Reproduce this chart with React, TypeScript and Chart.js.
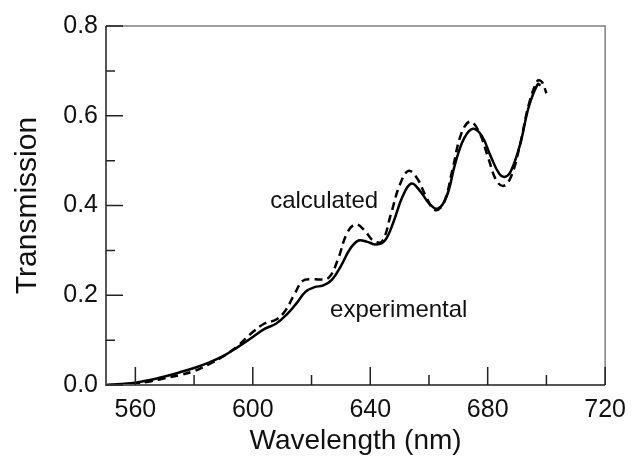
import React, { useEffect, useRef } from "react";
import { Chart, registerables } from "chart.js";

Chart.register(...registerables);

// ---- Data ----
const expWavelengths = [
  550, 555, 560, 565, 570, 575, 580, 585, 590, 595, 600, 604, 608, 612, 615, 618,
  621, 624, 627, 630, 633, 636, 639, 642, 645, 648, 651, 654, 657, 660, 663, 666,
  669, 672, 675, 678, 681, 684, 686, 688, 691, 694, 697, 698,
];
const expValues = [
  0.0, 0.002, 0.005, 0.011, 0.019, 0.028, 0.038, 0.05, 0.065, 0.085, 0.107, 0.125,
  0.137, 0.16, 0.183, 0.208, 0.218, 0.222, 0.235, 0.265, 0.302, 0.322, 0.319, 0.313,
  0.322, 0.365, 0.42, 0.449, 0.432, 0.405, 0.393, 0.42, 0.495, 0.55, 0.571, 0.555,
  0.51, 0.47, 0.464, 0.478, 0.535, 0.62, 0.67, 0.668,
];

const calcWavelengths = [
  550, 555, 560, 565, 570, 575, 580, 585, 590, 595, 600, 604, 608, 611, 614, 617,
  620, 623, 626, 629, 632, 635, 638, 641, 644, 647, 650, 653, 656, 659, 662, 665,
  668, 671, 674, 677, 680, 683, 685.5, 688, 691, 694, 697, 698.5, 700,
];
const calcValues = [
  0.0, 0.001, 0.003, 0.008, 0.015, 0.022, 0.031, 0.046, 0.064, 0.088, 0.118, 0.137,
  0.146, 0.165, 0.2, 0.232, 0.236, 0.235, 0.24, 0.28, 0.337, 0.358, 0.345, 0.322,
  0.32, 0.38, 0.445, 0.477, 0.46, 0.42, 0.39, 0.405, 0.48, 0.56, 0.587, 0.565,
  0.51, 0.455, 0.444, 0.465, 0.535, 0.625, 0.678, 0.675, 0.65,
];

const xMin = 550;
const xMax = 720;
const yMin = 0;
const yMax = 0.8;
const xTickValues = [560, 600, 640, 680, 720];
const xMinorTicks = [580, 620, 660, 700];
const yTickValues = [0, 0.2, 0.4, 0.6, 0.8];
const yMinorTicks = [0.1, 0.3, 0.5, 0.7];

const xTitle = "Wavelength (nm)";
const yTitle = "Transmission";
const annotationLabels = ["calculated", "experimental"];
const annotationX = [605.9, 626.3];
const annotationY = [0.394, 0.151];

const FONT = "'Liberation Sans', Arial, Helvetica, sans-serif";

const framePlugin = {
  id: "frameAndTicks",
  afterDraw(chart: any) {
    const { ctx, chartArea, scales } = chart;
    const { left, right, top, bottom } = chartArea;
    const xs = scales.x;
    const ys = scales.y;
    ctx.save();
    // top & right (lighter)
    ctx.strokeStyle = "#808080";
    ctx.lineWidth = 1.5;
    ctx.beginPath();
    ctx.moveTo(left, top);
    ctx.lineTo(right, top);
    ctx.lineTo(right, bottom);
    ctx.stroke();
    // left & bottom axes
    ctx.strokeStyle = "#555555";
    ctx.lineWidth = 2;
    ctx.beginPath();
    ctx.moveTo(left, top);
    ctx.lineTo(left, bottom);
    ctx.lineTo(right, bottom);
    ctx.stroke();
    // ticks
    ctx.strokeStyle = "#222222";
    ctx.lineWidth = 1.5;
    ctx.beginPath();
    xTickValues.forEach((v) => {
      const px = xs.getPixelForValue(v);
      ctx.moveTo(px, bottom);
      ctx.lineTo(px, bottom - 18);
    });
    xMinorTicks.forEach((v) => {
      const px = xs.getPixelForValue(v);
      ctx.moveTo(px, bottom);
      ctx.lineTo(px, bottom - 10);
    });
    yTickValues.forEach((v) => {
      const py = ys.getPixelForValue(v);
      ctx.moveTo(left, py);
      ctx.lineTo(left + 17, py);
    });
    yMinorTicks.forEach((v) => {
      const py = ys.getPixelForValue(v);
      ctx.moveTo(left, py);
      ctx.lineTo(left + 9, py);
    });
    ctx.stroke();

    // axis titles
    ctx.fillStyle = "#111111";
    ctx.textBaseline = "alphabetic";
    ctx.textAlign = "center";
    ctx.font = `28px ${FONT}`;
    ctx.fillText(xTitle, (left + right) / 2, bottom + 64);
    ctx.save();
    ctx.translate(left - 70, (top + bottom) / 2);
    ctx.rotate(-Math.PI / 2);
    ctx.font = `30px ${FONT}`;
    ctx.fillText(yTitle, 0, 0);
    ctx.restore();

    // annotations
    ctx.font = `24px ${FONT}`;
    ctx.textAlign = "left";
    annotationLabels.forEach((t, i) => {
      ctx.fillText(t, xs.getPixelForValue(annotationX[i]), ys.getPixelForValue(annotationY[i]));
    });
    ctx.restore();
  },
};

export default function App() {
  const canvasRef = useRef<HTMLCanvasElement | null>(null);

  useEffect(() => {
    if (!canvasRef.current) return;
    const chart = new Chart(canvasRef.current, {
      type: "line",
      data: {
        datasets: [
          {
            label: "experimental",
            data: expWavelengths.map((x, i) => ({ x, y: expValues[i] })),
            borderColor: "#000000",
            borderWidth: 2.5,
            pointRadius: 0,
            tension: 0.4,
            fill: false,
          },
          {
            label: "calculated",
            data: calcWavelengths.map((x, i) => ({ x, y: calcValues[i] })),
            borderColor: "#000000",
            borderWidth: 2.5,
            borderDash: [8, 5],
            pointRadius: 0,
            tension: 0.4,
            fill: false,
          },
        ],
      },
      options: {
        animation: false,
        responsive: false,
        maintainAspectRatio: false,
        layout: { padding: { top: 26, right: 22, left: 0, bottom: 0 } },
        plugins: {
          legend: { display: false },
          tooltip: { enabled: false },
        },
        scales: {
          x: {
            type: "linear",
            min: xMin,
            max: xMax,
            afterBuildTicks: (scale: any) => {
              scale.ticks = xTickValues.map((v) => ({ value: v }));
            },
            afterFit: (scale: any) => {
              scale.height = 72;
            },
            grid: { display: false, drawTicks: false },
            border: { display: false },
            ticks: {
              padding: 10,
              maxRotation: 0,
              autoSkip: false,
              color: "#111111",
              font: { family: FONT, size: 25 },
              callback: (v: any) => String(v),
            },
          },
          y: {
            type: "linear",
            min: yMin,
            max: yMax,
            afterBuildTicks: (scale: any) => {
              scale.ticks = yTickValues.map((v) => ({ value: v }));
            },
            afterFit: (scale: any) => {
              scale.width = 106;
            },
            grid: { display: false, drawTicks: false },
            border: { display: false },
            ticks: {
              padding: 8,
              autoSkip: false,
              color: "#111111",
              font: { family: FONT, size: 25 },
              callback: (v: any) => Number(v).toFixed(1),
            },
          },
        },
      },
      plugins: [framePlugin],
    });
    return () => chart.destroy();
  }, []);

  return (
    <div style={{ position: "absolute", left: 0, top: 0, width: 636, height: 457, background: "#ffffff" }}>
      <canvas ref={canvasRef} width={636} height={457} />
    </div>
  );
}
